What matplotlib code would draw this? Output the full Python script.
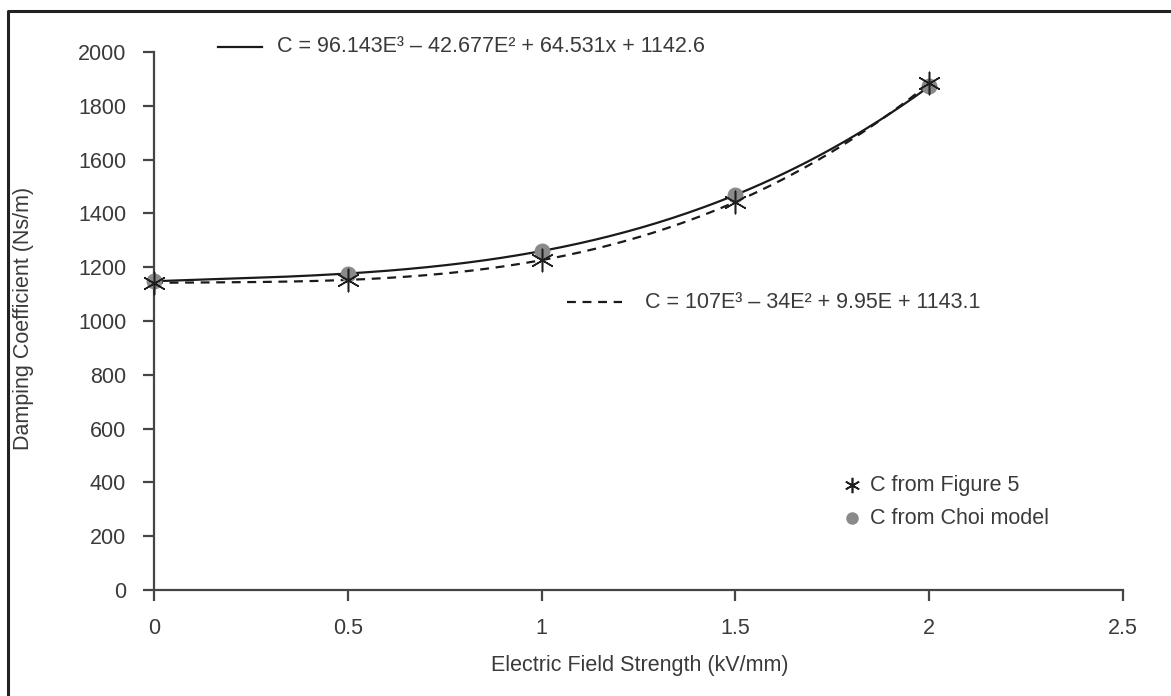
import matplotlib.pyplot as plt
import numpy as np
from matplotlib.lines import Line2D

# values
field = [0, 0.5, 1, 1.5, 2]
c_fig5 = [1142, 1153, 1226, 1443, 1883]
c_choi = [1148, 1176, 1261, 1468, 1872]
eq_choi = 'C = 96.143E³ – 42.677E² + 64.531x + 1142.6'
eq_fig5 = 'C = 107E³ – 34E² + 9.95E + 1143.1'

plt.rcParams['font.family'] = ['Liberation Sans', 'DejaVu Sans']
txt = '#3a3a3a'
axc = '#454545'
W, H = 1171, 696

fig = plt.figure(figsize=(11.71, 6.96), dpi=100)
ax = fig.add_axes([154 / W, 1 - 590 / H, (1123 - 154) / W, (590 - 52) / H])

# cubic trendlines like the spreadsheet ones
xs = np.linspace(0, 2, 200)
ax.plot(xs, np.polyval(np.polyfit(field, c_choi, 3), xs), color='#1a1a1a', lw=1.6, clip_on=False)
ax.plot(xs, np.polyval(np.polyfit(field, c_fig5, 3), xs), color='#1a1a1a', lw=1.6,
        ls=(0, (4, 3)), clip_on=False)

ax.scatter(field, c_choi, s=110, color='#8a8a8a', zorder=3, clip_on=False)
ax.scatter(field, c_fig5, s=260, marker=(6, 2, 0), color='#1e1e1e', lw=1.1, zorder=4, clip_on=False)

ax.set_xlim(0, 2.5)
ax.set_ylim(0, 2000)
ax.set_xticks([0, 0.5, 1, 1.5, 2, 2.5])
ax.set_xticklabels(['0', '0.5', '1', '1.5', '2', '2.5'])
ax.set_yticks(range(0, 2001, 200))
for s in ['top', 'right']:
    ax.spines[s].set_visible(False)
for s in ['left', 'bottom']:
    ax.spines[s].set_color(axc)
    ax.spines[s].set_linewidth(1.6)
ax.tick_params(direction='out', length=8, width=1.6, color=axc, labelsize=15.5,
               labelcolor=txt, pad=12)

fig.text(640 / W, 1 - 665 / H, 'Electric Field Strength (kV/mm)', fontsize=15.5, color=txt,
         ha='center', va='center')
fig.text(24 / W, 1 - 318 / H, 'Damping Coefficient (Ns/m)', fontsize=15.5, color=txt,
         ha='center', va='center', rotation=90)

# equation labels with line samples
fig.add_artist(Line2D([218 / W, 262 / W], [1 - 47 / H] * 2, color='#1a1a1a', lw=1.6))
fig.text(277 / W, 1 - 47 / H, eq_choi, fontsize=15.5, color=txt, va='center')
fig.add_artist(Line2D([567 / W, 622 / W], [1 - 302 / H] * 2, color='#1a1a1a', lw=1.6,
                      ls=(0, (4, 3))))
fig.text(645 / W, 1 - 302 / H, eq_fig5, fontsize=15.5, color=txt, va='center')

# legend
fig.add_artist(Line2D([852 / W], [1 - 485 / H], marker=(6, 2, 0), ms=11, mew=1.2,
                      color='#1e1e1e', ls='none'))
fig.text(870 / W, 1 - 485 / H, 'C from Figure 5', fontsize=15.5, color=txt, va='center')
fig.add_artist(Line2D([852 / W], [1 - 518 / H], marker='o', ms=8, color='#8a8a8a', ls='none'))
fig.text(870 / W, 1 - 518 / H, 'C from Choi model', fontsize=15.5, color=txt, va='center')

# outer frame
fig.add_artist(Line2D([8 / W, 8 / W, 1.0], [0, 1 - 11 / H, 1 - 11 / H],
                      color='#222222', lw=2.2))

fig.savefig('out.png', dpi=100)
